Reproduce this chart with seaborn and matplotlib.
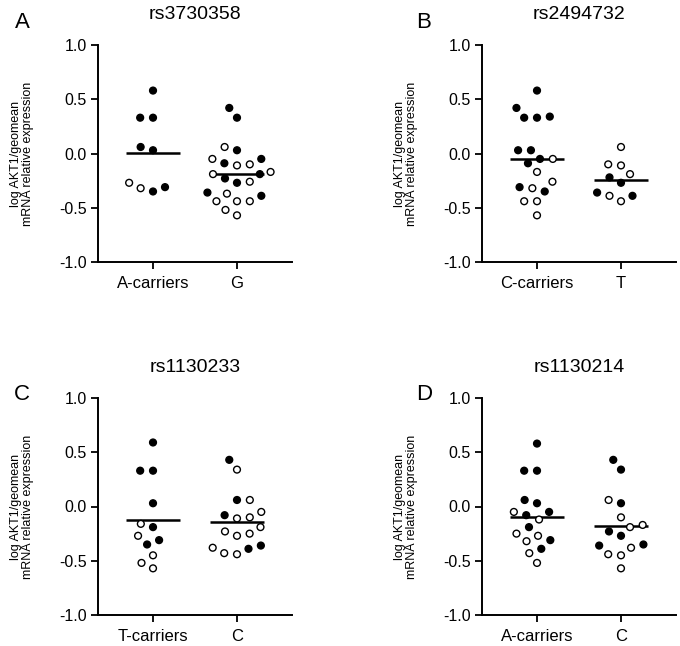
import matplotlib
matplotlib.use("Agg")
import matplotlib.pyplot as plt
from matplotlib.ticker import FormatStrFormatter
import seaborn as sns
import pandas as pd

sns.set_style("ticks")
plt.rcParams.update({'font.family': ['Liberation Sans', 'DejaVu Sans'],
                     'axes.unicode_minus': False})

# rs3730358
a_carriers_vals = [0.58, 0.33, 0.33, 0.03, 0.06, -0.27, -0.35, -0.31, -0.32]
a_carriers_fill = [1, 1, 1, 1, 1, 0, 1, 1, 0]
g_vals = [0.42, 0.33, 0.06, 0.03, -0.05, -0.05, -0.10, -0.11, -0.09, -0.17, -0.19, -0.19,
          -0.26, -0.27, -0.23, -0.36, -0.37, -0.39, -0.44, -0.44, -0.44, -0.52, -0.57]
g_fill = [1, 1, 0, 1, 0, 1, 0, 0, 1, 0, 0, 1, 0, 1, 1, 1, 0, 1, 0, 0, 0, 0, 0]

# rs2494732
c_carriers_vals = [0.58, 0.42, 0.33, 0.34, 0.33, 0.03, 0.03, -0.05, -0.05, -0.09, -0.17,
                   -0.26, -0.32, -0.31, -0.35, -0.44, -0.44, -0.57]
c_carriers_fill = [1, 1, 1, 1, 1, 1, 1, 1, 0, 1, 0, 0, 0, 1, 1, 0, 0, 0]
t_vals = [0.06, -0.11, -0.10, -0.19, -0.22, -0.27, -0.36, -0.39, -0.39, -0.44]
t_fill = [0, 0, 0, 0, 1, 1, 1, 0, 1, 0]

# rs1130233
t_carriers_vals = [0.59, 0.33, 0.33, 0.03, -0.16, -0.19, -0.27, -0.31, -0.35, -0.45, -0.52, -0.57]
t_carriers_fill = [1, 1, 1, 1, 0, 1, 0, 1, 1, 0, 0, 0]
c233_vals = [0.43, 0.34, 0.06, 0.06, -0.08, -0.05, -0.11, -0.10, -0.19, -0.25, -0.23,
             -0.27, -0.36, -0.38, -0.39, -0.44, -0.43]
c233_fill = [1, 0, 0, 1, 1, 0, 0, 0, 0, 0, 0, 0, 1, 0, 1, 0, 0]

# rs1130214
a214_vals = [0.58, 0.33, 0.33, 0.03, 0.06, -0.08, -0.05, -0.05, -0.12, -0.19, -0.25,
             -0.27, -0.31, -0.32, -0.39, -0.43, -0.52]
a214_fill = [1, 1, 1, 1, 1, 1, 0, 1, 0, 1, 0, 0, 1, 0, 1, 0, 0]
c214_vals = [0.43, 0.34, 0.06, 0.03, -0.10, -0.17, -0.19, -0.27, -0.23, -0.36, -0.35,
             -0.38, -0.45, -0.44, -0.57]
c214_fill = [1, 1, 0, 1, 0, 0, 0, 1, 1, 1, 1, 0, 0, 0, 0]

snp_names = ['rs3730358', 'rs2494732', 'rs1130233', 'rs1130214']
panel_letters = ['A', 'B', 'C', 'D']
group_labels = [['A-carriers', 'G'], ['C-carriers', 'T'], ['T-carriers', 'C'], ['A-carriers', 'C']]
panel_data = [
    [(a_carriers_vals, a_carriers_fill), (g_vals, g_fill)],
    [(c_carriers_vals, c_carriers_fill), (t_vals, t_fill)],
    [(t_carriers_vals, t_carriers_fill), (c233_vals, c233_fill)],
    [(a214_vals, a214_fill), (c214_vals, c214_fill)],
]

fig = plt.figure(figsize=(6.8, 6.46), dpi=100)
W, H = 680, 646
ax_boxes = [(98, 45), (482, 45), (98, 398), (482, 398)]   # left, top in px
ax_w, ax_h = 194, 217
letter_pos = [(22, 22), (424, 22), (22, 394), (424, 394)]

palette = {'filled': 'black', 'open': 'white'}
axes = []
for i in range(4):
    left, top = ax_boxes[i]
    ax = fig.add_axes([left / W, 1 - (top + ax_h) / H, ax_w / W, ax_h / H])
    axes.append(ax)
    rows = []
    for label, (vals, fill) in zip(group_labels[i], panel_data[i]):
        for v, f in zip(vals, fill):
            rows.append({'group': label, 'value': v, 'fill': 'filled' if f else 'open'})
    df = pd.DataFrame(rows)

    sns.swarmplot(data=df, x='group', y='value', hue='fill', order=group_labels[i],
                  hue_order=['filled', 'open'], palette=palette, size=7.8,
                  edgecolor='black', linewidth=1.0, legend=False, ax=ax)
    sns.pointplot(data=df, x='group', y='value', order=group_labels[i], estimator='mean',
                  errorbar=None, color='black', marker='_', markersize=39,
                  markeredgewidth=1.8, linestyle='none', ax=ax)

    ax.set_ylim(-1.0, 1.0)
    ax.set_xlim(-0.655, 1.655)
    ax.set_yticks([-1.0, -0.5, 0.0, 0.5, 1.0])
    ax.yaxis.set_major_formatter(FormatStrFormatter('%.1f'))
    sns.despine(ax=ax)
    for s in ['left', 'bottom']:
        ax.spines[s].set_linewidth(1.4)
        ax.spines[s].set_color('black')
    ax.tick_params(axis='both', length=5, width=1.3, color='black', labelsize=11.5,
                   labelcolor='black')
    ax.tick_params(axis='y', pad=3)
    ax.tick_params(axis='x', pad=5, labelsize=12)
    ax.set_xlabel('')
    ax.set_ylabel('log AKT1/geomean\nmRNA relative expression', fontsize=9,
                  linespacing=1.0, color='black')
    ax.yaxis.label.set_va('center')
    ax.yaxis.set_label_coords(-0.39, 0.5)
    ax.set_title(snp_names[i], fontsize=14, pad=19, color='black')
    fig.text(letter_pos[i][0] / W, 1 - letter_pos[i][1] / H, panel_letters[i],
             fontsize=16, ha='center', va='center', color='black')

# compute the swarm layout with a wider spacing, then keep it and shrink markers
fig.canvas.draw()
for ax in axes:
    for coll in ax.collections:
        if 'draw' in vars(coll):
            del coll.draw
            coll.set_sizes([4.9 ** 2])

fig.savefig('out.png', dpi=100)
plt.close(fig)
